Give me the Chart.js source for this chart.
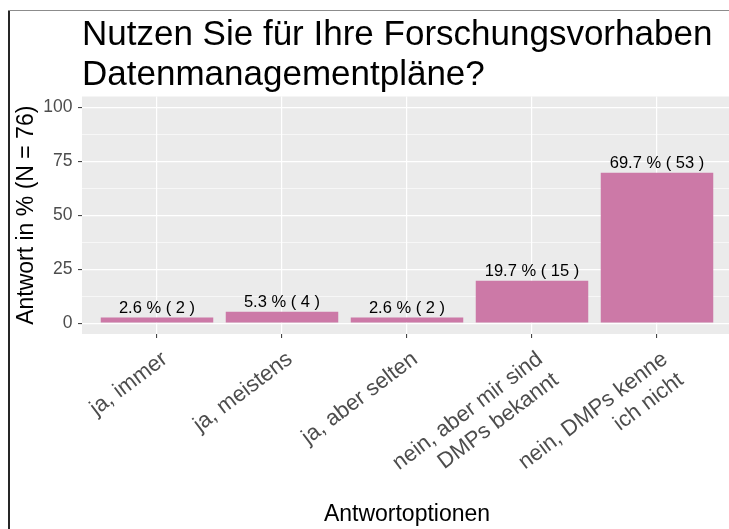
<!DOCTYPE html>
<html>
<head>
<meta charset="utf-8">
<script src="https://cdn.jsdelivr.net/npm/chart.js@4/dist/chart.umd.min.js"></script>
<style>
  html, body { margin: 0; padding: 0; background: #ffffff; overflow: hidden; width: 729px; height: 529px; }
  #wrap { position: absolute; left: 0; top: 0; width: 732px; height: 529px; }
  #frameLeft { position: absolute; left: 8px; top: 10px; width: 2px; height: 519px; background: #262626; z-index: 2; }
  #frameTop { position: absolute; left: 8px; top: 10px; width: 721px; height: 1px; background: #8c8c8c; z-index: 2; }
</style>
</head>
<body>
<div id="frameLeft"></div>
<div id="frameTop"></div>
<div id="wrap"><canvas id="chart" width="732" height="529"></canvas></div>
<script>
// ---- data ----
const titleLines = ["Nutzen Sie für Ihre Forschungsvorhaben", "Datenmanagementpläne?"];
const categories = [
  ["ja, immer"],
  ["ja, meistens"],
  ["ja, aber selten"],
  ["nein, aber mir sind", "DMPs bekannt"],
  ["nein, DMPs kenne", "ich nicht"]
];
const percentValues = [2.6, 5.3, 2.6, 19.7, 69.7];
const counts = [2, 4, 2, 15, 53];
const yTickLabels = [0, 25, 50, 75, 100];
const yGridValues = [0, 12.5, 25, 37.5, 50, 62.5, 75, 87.5, 100];
const yAxisTitle = "Antwort in % (N = 76)";
const xAxisTitle = "Antwortoptionen";

const FONT = "'Liberation Sans', Arial, Helvetica, sans-serif";
const barLabels = percentValues.map((p, i) => p.toFixed(1) + " % ( " + counts[i] + " )");

const panelBg = {
  id: 'panelBg',
  beforeDraw(chart) {
    const {ctx, chartArea: a} = chart;
    ctx.save();
    ctx.fillStyle = '#EBEBEB';
    ctx.fillRect(a.left, a.top, a.right - a.left, a.bottom - a.top);
    ctx.restore();
  }
};

const barText = {
  id: 'barText',
  afterDatasetsDraw(chart) {
    const {ctx} = chart;
    const meta = chart.getDatasetMeta(0);
    ctx.save();
    ctx.font = "16.5px " + FONT;
    ctx.fillStyle = '#000000';
    ctx.textAlign = 'center';
    ctx.textBaseline = 'alphabetic';
    meta.data.forEach((bar, i) => {
      ctx.fillText(barLabels[i], bar.x, bar.y - 5);
    });
    ctx.restore();
  }
};

new Chart(document.getElementById('chart'), {
  type: 'bar',
  data: {
    datasets: [{
      data: percentValues.map((v, i) => ({x: i, y: v})),
      backgroundColor: '#CC79A7',
      borderWidth: 0,
      barPercentage: 0.9,
      categoryPercentage: 1.0
    }]
  },
  options: {
    responsive: false,
    animation: false,
    events: [],
    layout: { padding: { left: 0, right: 0, top: 0, bottom: 0 } },
    plugins: {
      legend: { display: false },
      tooltip: { enabled: false },
      title: {
        display: true,
        text: titleLines,
        align: 'start',
        fullSize: false,
        color: '#000000',
        font: { family: FONT, size: 35, weight: 'normal', lineHeight: 1.143 },
        padding: { top: 15, bottom: 1.5 }
      }
    },
    scales: {
      x: {
        type: 'linear',
        min: -0.6,
        max: 4.6,
        offset: false,
        afterBuildTicks(scale) { scale.ticks = categories.map((c, i) => ({value: i})); },
        afterFit(scale) { scale.height = 529 - 334; },
        grid: {
          offset: false,
          color: '#FFFFFF',
          lineWidth: 1.2,
          drawTicks: true,
          tickLength: 4,
          tickColor: '#333333',
          tickWidth: 1
        },
        border: { display: false },
        ticks: {
          autoSkip: false,
          minRotation: 37,
          maxRotation: 37,
          labelOffset: 8,
          padding: 8.2,
          color: '#4D4D4D',
          font: { family: FONT, size: 22 },
          callback: (value) => categories[value]
        },
        title: {
          display: true,
          text: xAxisTitle,
          color: '#000000',
          font: { family: FONT, size: 23 },
          padding: { top: 0, bottom: 0.6 }
        }
      },
      y: {
        type: 'linear',
        min: -5,
        max: 105,
        afterBuildTicks(scale) { scale.ticks = yGridValues.map(v => ({value: v})); },
        afterFit(scale) { scale.width = 82; },
        grid: {
          color: '#FFFFFF',
          lineWidth: (c) => (c.tick && yTickLabels.includes(c.tick.value)) ? 1.2 : 0.6,
          drawTicks: true,
          tickLength: 4,
          tickColor: (c) => (c.tick && yTickLabels.includes(c.tick.value)) ? '#333333' : 'rgba(0,0,0,0)',
          tickWidth: 1
        },
        border: { display: false },
        ticks: {
          padding: 5.5,
          color: '#4D4D4D',
          font: { family: FONT, size: 17.5 },
          callback: (value) => yTickLabels.includes(value) ? String(value) : ''
        },
        title: {
          display: true,
          text: yAxisTitle,
          color: '#000000',
          font: { family: FONT, size: 23 },
          padding: { top: 12.4, bottom: 0 }
        }
      }
    }
  },
  plugins: [panelBg, barText]
});
</script>
</body>
</html>
